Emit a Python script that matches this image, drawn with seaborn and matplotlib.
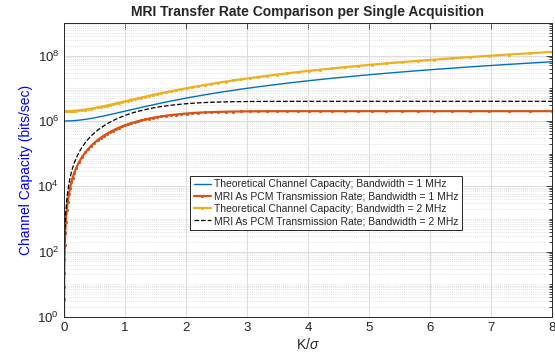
import matplotlib
matplotlib.use("Agg")
import matplotlib.pyplot as plt
import seaborn as sns
import numpy as np
from matplotlib.ticker import FixedLocator, LogLocator, LogFormatterSciNotation, NullFormatter

# K/sigma sample points (denser near 0)
k_sigma = [
    0.001, 0.002, 0.003, 0.005, 0.008, 0.013, 0.02, 0.03, 0.045, 0.06, 0.08,
    0.1, 0.12, 0.14, 0.17, 0.2, 0.25, 0.3, 0.35, 0.4, 0.45, 0.5,
    0.55, 0.6, 0.65, 0.7, 0.75, 0.8, 0.85, 0.9, 0.95, 1.008, 1.055,
    1.105, 1.157, 1.211, 1.268, 1.328, 1.391, 1.456, 1.525, 1.597, 1.672, 1.751,
    1.833, 1.92, 2.01, 2.105, 2.204, 2.308, 2.416, 2.53, 2.649, 2.774, 2.905,
    3.042, 3.185, 3.335, 3.492, 3.657, 3.829, 4.01, 4.199, 4.397, 4.604, 4.821,
    5.048, 5.286, 5.535, 5.796, 6.069, 6.355, 6.654, 6.968, 7.296, 7.64, 8.0,
]

# rates in Mbit/s
cap_1mhz = [
    1.0, 1.0, 1.0, 1.0, 1.0001, 1.0002, 1.0004, 1.0009, 1.002, 1.0036, 1.0064,
    1.01, 1.0144, 1.0196, 1.0289, 1.04, 1.0625, 1.09, 1.1225, 1.16, 1.2025, 1.25,
    1.3025, 1.36, 1.4225, 1.49, 1.5625, 1.64, 1.7225, 1.81, 1.9025, 2.016, 2.113,
    2.221, 2.339, 2.467, 2.608, 2.764, 2.935, 3.12, 3.326, 3.55, 3.796, 4.066,
    4.36, 4.686, 5.04, 5.431, 5.858, 6.327, 6.837, 7.401, 8.017, 8.695, 9.439,
    10.254, 11.144, 12.122, 13.194, 14.374, 15.661, 17.08, 18.632, 20.334, 22.197, 24.242,
    26.482, 28.942, 31.636, 34.594, 37.833, 41.386, 45.276, 49.553, 54.232, 59.37, 65.0,
]

pcm_1mhz = [
    9.19e-7, 3.67e-6, 8.27e-6, 2.30e-5, 5.88e-5, 1.552e-4, 3.674e-4, 8.27e-4, 1.86e-3, 3.306e-3, 5.875e-3,
    9.165e-3, 1.318e-2, 1.792e-2, 2.637e-2, 3.64e-2, 5.66e-2, 8.099e-2, 0.1094, 0.1417, 0.1777, 0.217,
    0.2596, 0.305, 0.353, 0.4034, 0.4558, 0.5099, 0.5656, 0.6223, 0.6798, 0.7472, 0.802,
    0.8603, 0.9206, 0.9826, 1.0471, 1.1135, 1.1809, 1.2482, 1.3168, 1.3844, 1.4508, 1.5157,
    1.5777, 1.6373, 1.6925, 1.7441, 1.7904, 1.832, 1.8676, 1.8985, 1.9243, 1.945, 1.9613,
    1.9738, 1.9828, 1.9892, 1.9935, 1.9963, 1.998, 1.999, 1.9995, 1.9998, 1.9999, 2.0,
    2.0, 2.0, 2.0, 2.0, 2.0, 2.0, 2.0, 2.0, 2.0, 2.0, 2.0,
]

cap_2mhz = [
    2.0, 2.0, 2.0, 2.0, 2.0002, 2.0003, 2.0008, 2.0018, 2.004, 2.0072, 2.0128,
    2.02, 2.0288, 2.0392, 2.0578, 2.08, 2.125, 2.18, 2.245, 2.32, 2.405, 2.5,
    2.605, 2.72, 2.845, 2.98, 3.125, 3.28, 3.445, 3.62, 3.805, 4.032, 4.226,
    4.442, 4.678, 4.934, 5.216, 5.528, 5.87, 6.24, 6.652, 7.1, 7.592, 8.132,
    8.72, 9.372, 10.08, 10.862, 11.716, 12.654, 13.674, 14.802, 16.034, 17.39, 18.878,
    20.508, 22.288, 24.244, 26.388, 28.748, 31.322, 34.16, 37.264, 40.668, 44.394, 48.484,
    52.964, 57.884, 63.272, 69.188, 75.666, 82.772, 90.552, 99.106, 108.464, 118.74, 130.0,
]

pcm_2mhz = [
    1.84e-6, 7.34e-6, 1.654e-5, 4.6e-5, 1.176e-4, 3.104e-4, 7.348e-4, 1.654e-3, 3.72e-3, 6.612e-3, 1.175e-2,
    1.833e-2, 2.636e-2, 3.584e-2, 5.274e-2, 7.28e-2, 0.1132, 0.162, 0.2188, 0.2834, 0.3554, 0.434,
    0.5192, 0.61, 0.706, 0.8068, 0.9116, 1.0198, 1.1312, 1.2446, 1.3596, 1.4944, 1.604,
    1.7206, 1.8412, 1.9652, 2.0942, 2.227, 2.3618, 2.4964, 2.6336, 2.7688, 2.9016, 3.0314,
    3.1554, 3.2746, 3.385, 3.4882, 3.5808, 3.664, 3.7352, 3.797, 3.8486, 3.89, 3.9226,
    3.9476, 3.9656, 3.9784, 3.987, 3.9926, 3.996, 3.998, 3.999, 3.9996, 3.9998, 4.0,
    4.0, 4.0, 4.0, 4.0, 4.0, 4.0, 4.0, 4.0, 4.0, 4.0, 4.0,
]

labels = [
    "Theoretical Channel Capacity; Bandwidth = 1 MHz",
    "MRI As PCM Transmission Rate; Bandwidth = 1 MHz",
    "Theoretical Channel Capacity; Bandwidth = 2 MHz",
    "MRI As PCM Transmission Rate; Bandwidth = 2 MHz",
]

sns.set_style("white")
plt.rcParams["font.family"] = ["Liberation Sans", "DejaVu Sans"]
plt.rcParams["mathtext.fontset"] = "custom"
plt.rcParams["mathtext.rm"] = "Liberation Sans"
plt.rcParams["mathtext.it"] = "Liberation Sans:italic"

fig = plt.figure(figsize=(5.55, 3.56), dpi=100)
ax = fig.add_axes([0.1153, 0.1096, 0.8793, 0.8258])

x = np.array(k_sigma)
sns.lineplot(x=x, y=np.array(cap_1mhz) * 1e6, color="#0072BD", lw=1.0,
             label=labels[0], ax=ax)
sns.lineplot(x=x, y=np.array(pcm_1mhz) * 1e6, color="#D95319", lw=1.6,
             marker=".", markersize=4.5, mew=0, label=labels[1], ax=ax)
sns.lineplot(x=x, y=np.array(cap_2mhz) * 1e6, color="#EDB120", lw=1.6,
             marker=".", markersize=4.5, mew=0, label=labels[2], ax=ax)
sns.lineplot(x=x, y=np.array(pcm_2mhz) * 1e6, color="black", lw=0.9,
             linestyle="--", dashes=(4, 2.5), label=labels[3], ax=ax)

ax.set_yscale("log")
ax.set_xlim(0, 8)
ax.set_ylim(1, 1e9)
ax.set_xticks(range(0, 9))
ax.yaxis.set_major_locator(FixedLocator([1e0, 1e2, 1e4, 1e6, 1e8]))
ax.yaxis.set_major_formatter(LogFormatterSciNotation())
ax.yaxis.set_minor_locator(LogLocator(base=10, subs=np.arange(1, 10), numticks=100))
ax.yaxis.set_minor_formatter(NullFormatter())

ax.set_axisbelow(True)
ax.grid(True, which="major", color="#dcdcdc", lw=0.7)
ax.grid(True, which="minor", axis="y", color="#d8d8d8", lw=0.6, ls=(0, (1, 1.5)))

ax.tick_params(which="both", direction="in", top=True, right=True,
               colors="#262626", labelsize=9.5, width=0.6)
ax.tick_params(which="major", length=4)
ax.tick_params(which="minor", length=2)
for s in ax.spines.values():
    s.set_color("#262626")
    s.set_linewidth(0.7)

ax.set_title("MRI Transfer Rate Comparison per Single Acquisition",
             fontsize=10, fontweight="bold", pad=5)
ax.set_xlabel("K/$\\sigma$", fontsize=10, color="#262626", labelpad=2)
ax.set_ylabel("Channel Capacity (bits/sec)", fontsize=10, color="blue", labelpad=3)

leg = ax.legend(loc="center", bbox_to_anchor=(0.537, 0.389), fontsize=7.5,
                frameon=True, fancybox=False, framealpha=1, edgecolor="#262626",
                handlelength=1.6, handletextpad=0.3, borderpad=0.35,
                labelspacing=0.22, borderaxespad=0)
leg.get_frame().set_linewidth(0.7)

fig.savefig("out.png", dpi=100)
